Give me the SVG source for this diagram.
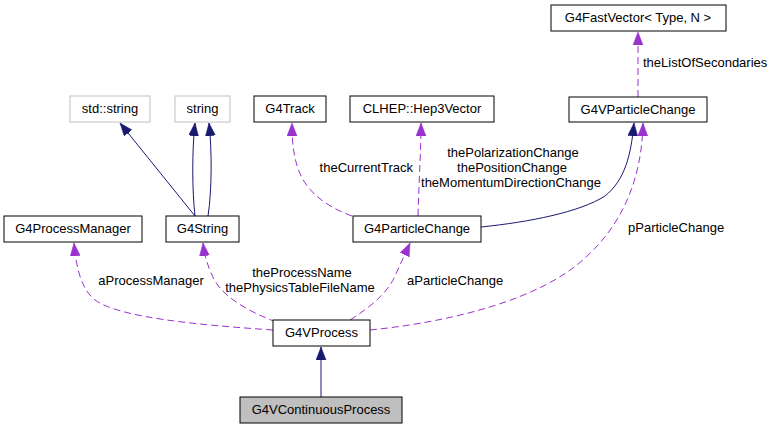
<svg xmlns="http://www.w3.org/2000/svg" width="773" height="429" viewBox="0 0 773 429">
<style>
text{font-family:"Liberation Sans",Arial,sans-serif;font-size:13px;fill:#000}
.n{text-anchor:middle}
.box{fill:#fff;stroke:#000;stroke-width:1}
.gbox{fill:#fff;stroke:#bfbfbf;stroke-width:1}
.inh{fill:none;stroke:#191970;stroke-width:1}
.use{fill:none;stroke:#9a32cd;stroke-width:1;stroke-dasharray:7,4}
</style>
<defs>
<marker id="an" markerUnits="userSpaceOnUse" markerWidth="15" markerHeight="12" refX="13" refY="5" orient="auto"><path d="M0,0 L13,5 L0,10 z" fill="#191970" stroke="#191970" stroke-width="0.5"/></marker>
<marker id="ap" markerUnits="userSpaceOnUse" markerWidth="15" markerHeight="12" refX="13" refY="5" orient="auto"><path d="M0,0 L13,5 L0,10 z" fill="#9a32cd" stroke="#9a32cd" stroke-width="0.5"/></marker>
</defs>
<rect width="773" height="429" fill="#fff"/>
<g id="connectors">
<path class="inh" marker-end="url(#an)" d="M321,397 L321,347"/>
<path class="inh" marker-end="url(#an)" d="M195,216 L120,123"/>
<path class="inh" marker-end="url(#an)" d="M195,216 C192,190 192,150 195,123"/>
<path class="inh" marker-end="url(#an)" d="M208,216 C212,190 212,150 209,123"/>
<path class="inh" marker-end="url(#an)" d="M481,227 C530,222 580,212 605,196 C625,180 631,155 634,123"/>
<path class="use" marker-end="url(#ap)" d="M273,330 C200,325 120,318 95,300 C80,288 76,265 74,243"/>
<path class="use" marker-end="url(#ap)" d="M276,322 C245,310 220,295 212,275 C206,262 204,252 203,243"/>
<path class="use" marker-end="url(#ap)" d="M350,320 C372,306 388,292 395,276 C400,265 405,254 410,243"/>
<path class="use" marker-end="url(#ap)" d="M370,330 C450,322 540,300 585,258 C625,222 642,175 643,123"/>
<path class="use" marker-end="url(#ap)" d="M352,216 C330,208 312,196 302,178 C294,162 292,145 292,123"/>
<path class="use" marker-end="url(#ap)" d="M418,216 C419,180 421,150 421,123"/>
<path class="use" marker-end="url(#ap)" d="M638,97 L638,32"/>
<text x="151" y="285" class="n">aProcessManager</text>
<text x="302" y="277" class="n">theProcessName</text>
<text x="300" y="292" class="n">thePhysicsTableFileName</text>
<text x="407" y="285">aParticleChange</text>
<text x="628" y="232">pParticleChange</text>
<text x="643" y="67">theListOfSecondaries</text>
<text x="413" y="172" text-anchor="end">theCurrentTrack</text>
<text x="513" y="157" class="n">thePolarizationChange</text>
<text x="512" y="172" class="n">thePositionChange</text>
<text x="511" y="187" class="n">theMomentumDirectionChange</text>
</g>
<g id="G4FastVector"><rect class="box" x="551" y="5" width="175" height="26"/><text x="638" y="22" class="n">G4FastVector&lt; Type, N &gt;</text></g>
<g id="G4VParticleChange"><rect class="box" x="569" y="97" width="138" height="25"/><text x="638" y="114" class="n">G4VParticleChange</text></g>
<g id="std_string"><rect class="gbox" x="70" y="96" width="80" height="26"/><text x="110" y="113" class="n">std::string</text></g>
<g id="string"><rect class="gbox" x="175" y="96" width="55" height="26"/><text x="202.5" y="113" class="n">string</text></g>
<g id="G4Track"><rect class="box" x="254" y="96" width="72" height="26"/><text x="290" y="113" class="n">G4Track</text></g>
<g id="CLHEP_Hep3Vector"><rect class="box" x="350" y="96" width="144" height="26"/><text x="422" y="113" class="n">CLHEP::Hep3Vector</text></g>
<g id="G4ProcessManager"><rect class="box" x="4" y="216" width="138" height="26"/><text x="73" y="233" class="n">G4ProcessManager</text></g>
<g id="G4String"><rect class="box" x="166" y="216" width="73" height="26"/><text x="202.5" y="233" class="n">G4String</text></g>
<g id="G4ParticleChange"><rect class="box" x="353" y="216" width="128" height="26"/><text x="417" y="233" class="n">G4ParticleChange</text></g>
<g id="G4VProcess"><rect class="box" x="273" y="320" width="97" height="26"/><text x="321.5" y="337" class="n">G4VProcess</text></g>
<g id="G4VContinuousProcess"><rect x="240" y="397" width="162" height="26" fill="#bfbfbf" stroke="#000"/><text x="321" y="414" class="n">G4VContinuousProcess</text></g>
</svg>
